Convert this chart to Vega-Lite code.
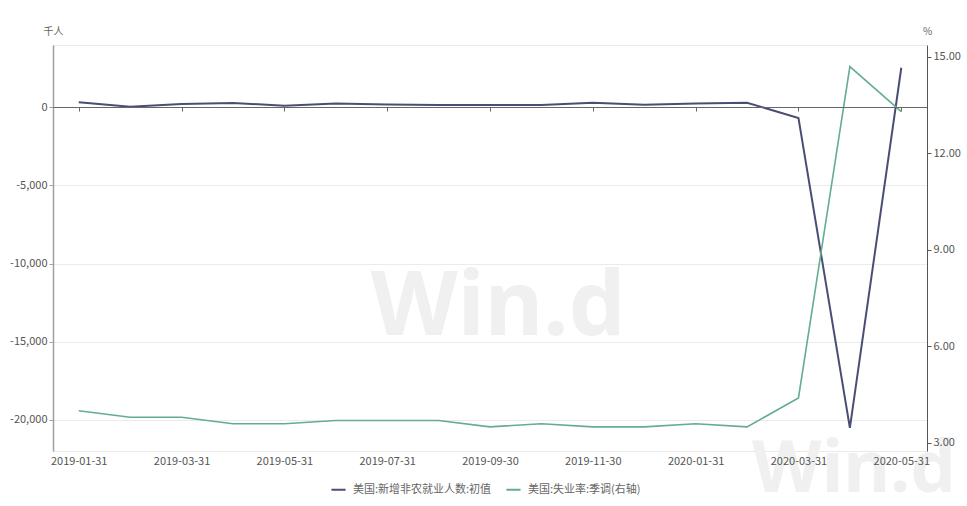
{
  "$schema": "https://vega.github.io/schema/vega-lite/v6.json",
  "width": 874,
  "height": 406,
  "autosize": {"type": "none"},
  "padding": {"left": 53, "top": 45, "right": 40, "bottom": 55},
  "background": "#ffffff",
  "config": {
    "font": "Noto Sans CJK SC",
    "view": {"stroke": "#e9e9e9"},
    "axis": {"labelFontSize": 11, "labelColor": "#555555", "titleFontWeight": "normal"}
  },
  "datasets": {
    "main": [
      {"date": "2019-01-31", "nfp": 304, "ur": 4.0},
      {"date": "2019-02-28", "nfp": 20, "ur": 3.8},
      {"date": "2019-03-31", "nfp": 196, "ur": 3.8},
      {"date": "2019-04-30", "nfp": 263, "ur": 3.6},
      {"date": "2019-05-31", "nfp": 75, "ur": 3.6},
      {"date": "2019-06-30", "nfp": 224, "ur": 3.7},
      {"date": "2019-07-31", "nfp": 164, "ur": 3.7},
      {"date": "2019-08-31", "nfp": 130, "ur": 3.7},
      {"date": "2019-09-30", "nfp": 136, "ur": 3.5},
      {"date": "2019-10-31", "nfp": 128, "ur": 3.6},
      {"date": "2019-11-30", "nfp": 266, "ur": 3.5},
      {"date": "2019-12-31", "nfp": 145, "ur": 3.5},
      {"date": "2020-01-31", "nfp": 225, "ur": 3.6},
      {"date": "2020-02-29", "nfp": 273, "ur": 3.5},
      {"date": "2020-03-31", "nfp": -701, "ur": 4.4},
      {"date": "2020-04-30", "nfp": -20500, "ur": 14.7},
      {"date": "2020-05-31", "nfp": 2509, "ur": 13.3}
    ]
  },
  "data": {"name": "main"},
  "encoding": {
    "x": {
      "field": "date",
      "type": "ordinal",
      "sort": null,
      "scale": {
        "type": "point",
        "padding": 0.5,
        "domain": ["2019-01-31","2019-02-28","2019-03-31","2019-04-30","2019-05-31","2019-06-30","2019-07-31","2019-08-31","2019-09-30","2019-10-31","2019-11-30","2019-12-31","2020-01-31","2020-02-29","2020-03-31","2020-04-30","2020-05-31"]
      },
      "axis": {
        "orient": "bottom",
        "offset": -344,
        "values": ["2019-01-31","2019-03-31","2019-05-31","2019-07-31","2019-09-30","2019-11-30","2020-01-31","2020-03-31","2020-05-31"],
        "labelAngle": 0,
        "labelPadding": 344,
        "domainColor": "#666666",
        "domainWidth": 1,
        "tickColor": "#666666",
        "tickSize": 4,
        "grid": false,
        "title": null,
        "zindex": 2
      }
    }
  },
  "resolve": {"scale": {"y": "independent"}},
  "layer": [
    {
      "layer": [
        {
          "transform": [{"filter": "datum.date == '2019-09-30'"}],
          "mark": {"type": "text", "font": "Noto Sans", "fontWeight": "bold", "fontSize": 90, "color": "#f0f0f0", "baseline": "alphabetic", "align": "center", "dx": 8, "text": "Win.d"},
          "encoding": {
            "y": {
              "datum": -14570,
              "type": "quantitative",
              "scale": {"domain": [-21981, 3962], "nice": false, "zero": false},
              "axis": {
                "orient": "left",
                "values": [-20000, -15000, -10000, -5000, 0],
                "labelExpr": "replace(format(datum.value, ',.0f'), '\u2212', '-')",
                "grid": true,
                "gridColor": "#ebebeb",
                "domainColor": "#a0a0a0",
                "domainWidth": 1.5,
                "tickColor": "#a0a0a0",
                "tickSize": 4,
                "labelPadding": 2,
                "title": "千人",
                "titleAngle": 0,
                "titleX": 0,
                "titleY": -14,
                "titleAlign": "center",
                "titleBaseline": "middle",
                "titleFontSize": 10,
                "titleColor": "#666666"
              }
            }
          }
        },
        {
          "transform": [{"filter": "datum.date == '2020-04-30'"}],
          "mark": {"type": "text", "font": "Noto Sans", "fontWeight": "bold", "fontSize": 72, "color": "#f0f0f0", "baseline": "alphabetic", "align": "center", "dx": 4, "text": "Win.d"},
          "encoding": {
            "y": {
              "datum": -24600,
              "type": "quantitative",
              "scale": {"domain": [-21981, 3962], "nice": false, "zero": false},
              "axis": {
                "orient": "left",
                "values": [-20000, -15000, -10000, -5000, 0],
                "labelExpr": "replace(format(datum.value, ',.0f'), '\u2212', '-')",
                "grid": true,
                "gridColor": "#ebebeb",
                "domainColor": "#a0a0a0",
                "domainWidth": 1.5,
                "tickColor": "#a0a0a0",
                "tickSize": 4,
                "labelPadding": 2,
                "title": "千人",
                "titleAngle": 0,
                "titleX": 0,
                "titleY": -14,
                "titleAlign": "center",
                "titleBaseline": "middle",
                "titleFontSize": 10,
                "titleColor": "#666666"
              }
            }
          }
        },
        {
          "mark": {"type": "line", "strokeWidth": 2, "clip": false},
          "encoding": {
            "y": {
              "field": "nfp",
              "type": "quantitative",
              "scale": {"domain": [-21981, 3962], "nice": false, "zero": false},
              "axis": {
                "orient": "left",
                "values": [-20000, -15000, -10000, -5000, 0],
                "labelExpr": "replace(format(datum.value, ',.0f'), '\u2212', '-')",
                "grid": true,
                "gridColor": "#ebebeb",
                "domainColor": "#a0a0a0",
                "domainWidth": 1.5,
                "tickColor": "#a0a0a0",
                "tickSize": 4,
                "labelPadding": 2,
                "title": "千人",
                "titleAngle": 0,
                "titleX": 0,
                "titleY": -14,
                "titleAlign": "center",
                "titleBaseline": "middle",
                "titleFontSize": 10,
                "titleColor": "#666666"
              }
            },
            "color": {
              "datum": "美国:新增非农就业人数:初值",
              "type": "nominal",
              "scale": {"domain": ["美国:新增非农就业人数:初值", "美国:失业率:季调(右轴)"], "range": ["#4b4e74", "#64ad8f"]},
              "legend": {
                "orient": "none",
                "legendX": 277,
                "legendY": 436,
                "direction": "horizontal",
                "title": null,
                "symbolType": "stroke",
                "symbolStrokeWidth": 2,
                "symbolSize": 200,
                "labelFontSize": 11,
                "labelColor": "#666666",
                "labelOffset": 6,
                "columnPadding": 10,
                "padding": 0
              }
            }
          }
        }
      ]
    },
    {
      "mark": {"type": "line", "strokeWidth": 1.6, "clip": false},
      "encoding": {
        "y": {
          "field": "ur",
          "type": "quantitative",
          "scale": {"domain": [2.751, 15.373], "nice": false, "zero": false},
          "axis": {
            "orient": "right",
            "values": [3, 6, 9, 12, 15],
            "format": ".2f",
            "grid": false,
            "domainColor": "#555555",
            "domainWidth": 1,
            "tickColor": "#555555",
            "tickSize": 4,
            "labelPadding": 2,
            "title": "%",
            "titleAngle": 0,
            "titleX": 0,
            "titleY": -14,
            "titleAlign": "center",
            "titleBaseline": "middle",
            "titleFontSize": 10,
            "titleColor": "#666666",
            "zindex": 2
          }
        },
        "color": {"datum": "美国:失业率:季调(右轴)", "type": "nominal"}
      }
    }
  ]
}
